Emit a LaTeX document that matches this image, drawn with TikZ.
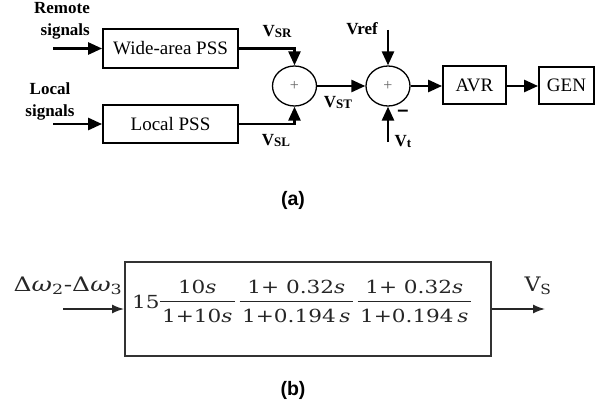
\documentclass[tikz,border=0pt]{standalone}
\usepackage{fontspec}
\setmainfont{Liberation Serif}
\newfontfamily\dvs{DejaVu Serif}
\newfontfamily\arialb{Liberation Sans}
\usetikzlibrary{arrows.meta,shapes.geometric}
\newcommand\sbs[1]{\raisebox{-1pt}{\fontsize{13}{12}\selectfont #1}}
\newcommand\fr[2]{\begin{tabular}[c]{@{\hspace{2pt}}c@{\hspace{2pt}}}#1\\[2pt]\hline\rule{0pt}{20pt}#2\end{tabular}}
\setlength\arrayrulewidth{1.2pt}
\tikzset{
  blk/.style={draw, line width=1.8pt, inner sep=0pt, font=\fontsize{19}{20}\selectfont},
  sumnode/.style={draw, ellipse, line width=1.3pt, minimum width=44pt, minimum height=40pt, inner sep=0pt, font=\fontsize{16}{16}\selectfont\color{black!60}},
  arr/.style={line width=2.6pt, -{Triangle[length=14pt,width=12pt]}},
  lab/.style={font=\fontsize{17}{21.5}\selectfont\bfseries, inner sep=0pt},
  thinarr/.style={line width=1.5pt, draw=black!85, -{Latex[length=12pt,width=9pt]}},
  capt/.style={font=\arialb\bfseries\fontsize{19.5}{20}\selectfont, inner sep=0pt},
  bl/.style={font=\dvs\fontsize{20}{20}\selectfont, inner sep=0pt, text=black!85}
}
\begin{document}
\begin{tikzpicture}[x=1pt,y=-1pt]
\useasboundingbox (0,0) rectangle (595,404);
% (a)
\node[lab, align=right, anchor=east] (rem) at (90,21) {Remote\\signals};
\node[lab, align=center] (loc) at (50,101.5) {Local\\signals};
\node[blk, minimum width=135pt, minimum height=39pt] (wpss) at (170.5,48.5) {Wide-area PSS};
\node[blk, minimum width=135pt, minimum height=38pt] (lpss) at (170.5,124) {Local PSS};
\node[sumnode] (s1) at (294.5,86) {+};
\node[sumnode] (s2) at (388,86) {+};
\node[blk, minimum width=63pt, minimum height=38pt] (avr) at (474.5,85) {AVR};
\node[blk, minimum width=55pt, minimum height=37pt] (gen) at (566.5,85.5) {GEN};
\coordinate (rin) at (53,48.5);
\coordinate (lin) at (53,124);
\coordinate (vr) at (388,30);
\coordinate (vt) at (388,142);
\draw[arr] (rin) -- (wpss.west);
\draw[arr] (lin) -- (lpss.west);
\draw[arr] (wpss.east) -| (s1.north);
\draw[arr] (lpss.east) -| (s1.south);
\draw[arr] (s1.east) -- (s2.west);
\draw[arr] (vr) -- (s2.north);
\draw[arr] (vt) -- (s2.south);
\draw[arr] (s2.east) -- (s2.east -| avr.west);
\draw[arr] (avr.east |- s2.east) -- (s2.east -| gen.west);
\node[lab] (vsr) at (277,31) {V\sbs{SR}};
\node[lab] (vsl) at (276,140) {V\sbs{SL}};
\node[lab] (vst) at (338,102) {V\sbs{ST}};
\node[lab] (vref) at (362,29) {Vref};
\node[lab] (vtl) at (403,141) {V\sbs{t}};
\node[lab, font=\arialb\bfseries\fontsize{20}{20}\selectfont] (minus) at (403,113) {–};
\node[capt] (ca) at (293,200) {(a)};
% (b)
\node[draw=black!80, line width=1.9pt, minimum width=366pt, minimum height=94pt, inner sep=0pt] (tf) at (308,309) {};
\node[inner sep=0pt, anchor=base west, text=black!85] (form) at (132,308)
  {\dvs\fontsize{18}{20}\selectfont\scalebox{1.2}[1]{15\fr{10\textit{s}}{1+10\textit{s}}\hspace{4pt}\fr{1+ 0.32\textit{s}}{1+0.194\,\textit{s}}\hspace{4pt}\fr{1+ 0.32\textit{s}}{1+0.194\,\textit{s}}}};
\coordinate (win) at (63,309);
\coordinate (wout) at (545,309);
\draw[thinarr] (win) -- (tf.west);
\draw[thinarr] (tf.east) -- (wout);
\node[bl] (dw) at (68,286) {\scalebox{1.25}[1]{Δ\textit{ω}\textsubscript{2}-Δ\textit{ω}\textsubscript{3}}};
\node[bl] (vs) at (538,286) {\scalebox{1.1}[1]{V\textsubscript{S}}};
\node[capt] (cb) at (293,390) {(b)};
\end{tikzpicture}
\end{document}
